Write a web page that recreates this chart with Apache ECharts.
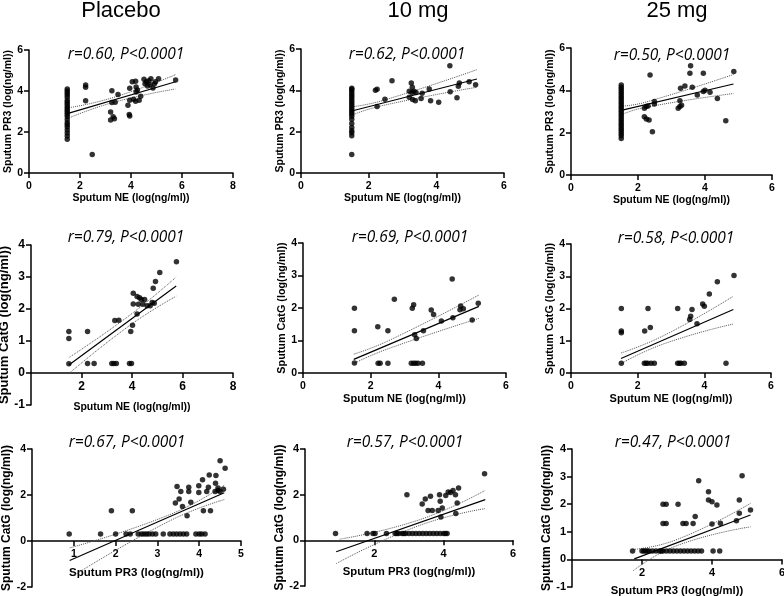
<!DOCTYPE html>
<html><head><meta charset="utf-8">
<script src="https://cdn.jsdelivr.net/npm/echarts@6/dist/echarts.min.js"></script>
<style>html,body{margin:0;padding:0;background:#fff}#c{width:784px;height:596px}</style>
</head><body><div id="c"></div>
<script>
// ---------------- DATA ----------------
const groupTitles = ['Placebo', '10 mg', '25 mg'];
const rLabels = [
  'r=0.60, P<0.0001', 'r=0.62, P<0.0001', 'r=0.50, P<0.0001',
  'r=0.79, P<0.0001', 'r=0.69, P<0.0001', 'r=0.58, P<0.0001',
  'r=0.67, P<0.0001', 'r=0.57, P<0.0001', 'r=0.47, P<0.0001'
];
const xNames = [
  'Sputum NE (log(ng/ml))', 'Sputum NE (log(ng/ml))', 'Sputum NE (log(ng/ml))',
  'Sputum NE (log(ng/ml))', 'Sputum NE (log(ng/ml))', 'Sputum NE (log(ng/ml))',
  'Sputum PR3 (log(ng/ml))', 'Sputum PR3 (log(ng/ml))', 'Sputum PR3 (log(ng/ml))'
];
const yNames = [
  'Sputum PR3 (log(ng/ml))', 'Sputum PR3 (log(ng/ml))', 'Sputum PR3 (log(ng/ml))',
  'Sputum CatG (log(ng/ml))', 'Sputum CatG (log(ng/ml))', 'Sputum CatG (log(ng/ml))',
  'Sputum CatG (log(ng/ml))', 'Sputum CatG (log(ng/ml))', 'Sputum CatG (log(ng/ml))'
];
const xMin = [0, 0, 0, 0, 0, 0, 0, 0, 0];
const xMax = [8, 6, 6, 8, 6, 6, 5, 6, 6];
const xStep = [2, 2, 2, 2, 2, 2, 1, 2, 2];
const yMin = [0, 0, 0, -1, 0, 0, -2, -2, -1];
const yMax = [6, 6, 6, 4, 4, 4, 4, 4, 4];
const yStep = [2, 2, 2, 1, 1, 1, 2, 2, 1];

// values at the lower limit of NE (x = 1.5)
const neFloor = 1.5;
const placeboNePr3Floor = [1.65,1.8,1.95,2.1,2.25,2.35,2.45,2.6,2.75,2.85,2.95,3.05,3.15,3.25,3.35,3.45,3.55,3.7,3.8,3.9,4.0,4.1];
const placeboNePr3 = [[2.22,4.29],[2.22,4.18],[2.22,3.52],[2.48,0.9],[3.25,4.01],[3.25,3.44],[3.38,3.45],[3.2,2.98],[3.2,2.58],[3.35,2.65],[3.3,2.75],[3.49,3.83],[3.95,4.13],[3.88,3.31],[3.95,3.55],[3.93,2.85],[3.95,2.78],[4.05,4.45],[4.18,4.47],[4.2,4.2],[4.25,4.05],[4.2,3.95],[4.1,3.6],[4.18,3.5],[4.32,3.55],[4.38,3.75],[4.51,4.57],[4.6,4.45],[4.55,4.35],[4.7,4.5],[4.78,4.6],[4.75,4.3],[4.86,4.15],[4.92,4.35],[4.96,4.45],[4.65,4.25],[5.08,4.6],[5.75,4.54]];
const tenNePr3Floor = [0.9,1.8,1.95,2.05,2.2,2.4,2.6,2.75,2.85,2.95,3.05,3.15,3.25,3.35,3.45,3.55,3.65,3.75,3.85,3.95,4.05,4.1];
const tenNePr3 = [[2.2,4.0],[2.25,4.05],[2.25,3.22],[2.48,3.57],[2.69,4.46],[3.26,4.35],[3.29,4.15],[3.2,3.95],[3.28,3.9],[3.34,3.96],[3.4,3.9],[3.2,3.66],[3.3,3.56],[3.38,3.5],[3.55,3.61],[3.58,3.86],[3.79,4.07],[3.83,3.5],[4.07,3.42],[4.4,5.19],[4.41,3.93],[4.61,3.64],[4.65,4.2],[4.68,4.35],[4.97,4.42],[5.16,4.27]];
const twentyFiveNePr3Floor = [1.72,1.85,1.95,2.05,2.15,2.25,2.35,2.45,2.55,2.65,2.75,2.85,2.95,3.05,3.15,3.25,3.35,3.45,3.55,3.65,3.75,3.85,3.95,4.05,4.15,4.25];
const twentyFiveNePr3 = [[2.19,3.15],[2.24,3.24],[2.3,3.26],[2.19,2.75],[2.25,2.65],[2.33,2.6],[2.36,4.73],[2.43,2.04],[2.49,3.47],[2.49,3.36],[3.2,3.15],[3.25,3.24],[3.3,3.3],[3.25,3.51],[3.27,4.1],[3.4,4.21],[3.57,5.16],[3.55,4.81],[3.62,4.15],[3.77,3.78],[3.95,4.81],[3.95,3.94],[4.0,4.0],[4.15,3.91],[4.37,3.62],[4.62,2.56],[4.86,4.89]];
const placeboNeCatg = [[1.5,1.3],[1.5,1.08],[1.5,0.29],[2.24,1.3],[2.24,0.3],[2.5,0.3],[3.2,0.3],[3.28,0.3],[3.38,0.3],[3.32,1.64],[3.48,1.65],[3.9,0.3],[3.98,0.3],[3.95,1.3],[4.02,1.49],[4.05,2.49],[4.05,2.16],[4.2,1.84],[4.2,2.39],[4.3,2.35],[4.37,2.3],[4.5,2.3],[4.43,2.15],[4.25,2.15],[4.6,2.1],[4.72,2.1],[4.8,2.2],[4.88,2.18],[4.84,2.65],[4.93,2.86],[5.1,3.14],[5.76,3.48]];
const tenNeCatg = [[1.52,1.99],[1.52,1.3],[1.52,0.31],[2.21,1.42],[2.22,0.3],[2.28,0.3],[2.51,1.3],[2.51,0.3],[2.7,2.27],[3.23,1.99],[3.27,2.1],[3.2,0.3],[3.27,0.3],[3.33,0.3],[3.4,0.3],[3.53,0.3],[3.3,1.18],[3.35,1.06],[3.56,1.3],[3.79,1.94],[3.86,1.8],[4.09,1.6],[4.41,2.89],[4.43,1.7],[4.66,2.06],[4.64,1.95],[4.74,1.98],[5.0,1.63],[5.18,2.15]];
const twentyFiveNeCatg = [[1.51,2.0],[1.51,1.3],[1.51,1.25],[1.51,0.3],[2.21,1.3],[2.31,2.0],[2.38,1.41],[2.2,0.3],[2.25,0.3],[2.3,0.3],[2.4,0.3],[2.5,0.3],[3.2,2.0],[3.2,0.3],[3.25,0.3],[3.3,0.3],[3.4,0.3],[3.56,1.66],[3.59,1.76],[3.63,1.97],[3.78,1.53],[3.95,2.14],[4.0,2.07],[4.15,2.45],[4.39,2.83],[4.65,0.3],[4.89,3.02]];
const placeboPr3Catg = [[0.89,0.3],[1.64,0.3],[1.9,1.31],[2.0,0.3],[2.4,1.31],[2.25,0.3],[2.35,0.3],[2.54,0.3],[2.62,0.3],[2.68,0.3],[2.74,0.3],[2.8,0.3],[2.88,0.3],[2.96,0.3],[3.14,0.3],[3.3,0.3],[3.38,0.3],[3.46,0.3],[3.54,0.3],[3.62,0.3],[3.7,0.3],[3.92,0.3],[4.0,0.3],[4.06,0.3],[4.14,0.3],[3.43,1.65],[3.47,2.37],[3.52,1.83],[3.56,2.15],[3.6,1.5],[3.71,1.1],[3.75,2.34],[3.75,2.15],[3.8,1.68],[3.99,2.4],[3.99,2.11],[4.08,2.66],[4.1,1.31],[4.18,2.15],[4.22,2.34],[4.24,2.87],[4.27,1.31],[4.39,2.51],[4.4,2.85],[4.38,2.15],[4.45,2.2],[4.5,2.15],[4.45,2.3],[4.5,3.49],[4.58,2.25],[4.62,3.16]];
const tenPr3Catg = [[0.88,0.3],[1.79,0.3],[1.96,0.3],[2.02,0.3],[2.35,0.3],[2.6,0.3],[2.65,0.3],[2.7,0.3],[2.8,0.3],[2.85,0.3],[2.9,0.3],[3.0,0.3],[3.1,0.3],[3.2,0.3],[3.3,0.3],[3.4,0.3],[3.5,0.3],[3.6,0.3],[3.7,0.3],[3.8,0.3],[3.9,0.3],[4.0,0.3],[4.05,0.3],[4.1,0.3],[2.94,2.0],[3.38,1.59],[3.47,1.81],[3.55,1.31],[3.67,1.31],[3.62,1.93],[3.84,1.31],[3.88,2.0],[3.9,1.71],[3.92,1.02],[3.96,1.42],[4.06,1.96],[4.13,2.12],[4.2,2.1],[4.27,2.18],[4.34,2.0],[4.35,1.17],[4.39,1.64],[4.43,2.29],[5.18,2.92]];
const twentyFivePr3Catg = [[1.73,0.3],[2.0,0.3],[2.05,0.3],[2.1,0.3],[2.15,0.3],[2.2,0.3],[2.3,0.3],[2.4,0.3],[2.5,0.3],[2.55,0.3],[2.6,0.3],[2.7,0.3],[2.8,0.3],[2.9,0.3],[3.0,0.3],[3.1,0.3],[3.2,0.3],[3.3,0.3],[3.4,0.3],[3.5,0.3],[3.6,0.3],[3.7,0.3],[4.03,0.3],[4.22,0.3],[2.6,2.0],[2.69,2.0],[2.6,1.3],[2.69,1.3],[3.03,2.0],[3.17,1.3],[3.26,1.3],[3.46,1.3],[3.52,1.55],[3.62,2.85],[3.9,2.45],[3.9,2.15],[4.0,2.09],[4.0,1.28],[4.14,1.97],[4.24,1.31],[4.7,1.4],[4.78,2.15],[4.78,1.67],[4.86,3.03],[5.1,1.79]];

// regression lines and 95% bands
const fitLines = [
  [[1.5,2.9],[5.75,4.45]], [[1.5,3.0],[5.2,4.55]], [[1.5,3.05],[4.85,4.3]],
  [[1.5,0.25],[5.75,2.72]], [[1.5,0.42],[5.2,2.05]], [[1.5,0.45],[4.87,1.97]],
  [[0.9,-0.85],[4.6,2.1]], [[0.9,-0.5],[5.2,1.78]], [[1.78,0.02],[5.1,1.61]]
];
const upperBands = [
  [[1.5,3.17],[3.3,3.68],[5.75,4.8]], [[1.5,3.2],[2.4,3.5],[5.2,5.0]], [[1.5,3.25],[2.2,3.43],[4.85,4.75]],
  [[1.5,0.48],[3.9,1.8],[5.75,3.0]], [[1.5,0.58],[2.5,0.98],[5.2,2.4]], [[1.5,0.62],[2.8,1.17],[4.87,2.38]],
  [[0.9,-0.3],[3.3,1.15],[4.6,2.42]], [[1.0,0.05],[3.3,0.9],[5.2,2.19]], [[1.75,0.36],[3.0,0.72],[5.1,2.03]]
];
const lowerBands = [
  [[1.5,2.65],[3.3,3.44],[5.75,4.1]], [[1.5,2.8],[2.4,3.26],[5.2,4.15]], [[1.5,2.85],[2.2,3.19],[4.85,3.85]],
  [[1.5,-0.02],[3.9,1.48],[5.75,2.4]], [[1.5,0.29],[2.5,0.74],[5.2,1.68]], [[1.5,0.29],[2.8,0.91],[4.87,1.52]],
  [[1.0,-1.5],[3.3,0.88],[4.6,1.8]], [[0.9,-1.02],[3.3,0.65],[5.2,1.39]], [[1.75,-0.41],[3.0,0.5],[5.1,1.18]]
];

// ---------------- LAYOUT ----------------
const grids = [
  [29,50,204,123], [301,49,203,124], [571,48,201,127],
  [31,245,202,160], [303,243,203,130], [571,244,200,129],
  [32,449,209,138], [305,449,208,137], [572,449,210,138]
];
const showX0 = [true,true,true,false,true,true,false,false,false];
const xNameGap = [19,19,18,29,20,20,26,26,26];
const yNameGap = [14,14,15,17,12,14,17,18,16];
const xNameSize = [10.5,10.5,10.5,10.5,11,11,11.5,11.3,11.3];
const yNameSize = [10.5,10.5,10.6,13,10.8,10.8,12,12,12];
const tickSize = [10.5,10.5,10.5,12,10.5,10.5,10.5,11,11];
const titleX = [121,418,677];
const rPos = [[126,55],[407,55],[672,56],[126,238],[410,238],[676,239],[127,443],[405,443],[673,443]];

const panelData = [
  placeboNePr3Floor.map(v => [neFloor, v]).concat(placeboNePr3),
  tenNePr3Floor.map(v => [neFloor, v]).concat(tenNePr3),
  twentyFiveNePr3Floor.map(v => [neFloor, v]).concat(twentyFiveNePr3),
  placeboNeCatg, tenNeCatg, twentyFiveNeCatg,
  placeboPr3Catg, tenPr3Catg, twentyFivePr3Catg
];

const FONT = '"Liberation Sans", Arial, sans-serif';
const gridOpt = [], xAxes = [], yAxes = [], series = [], graphic = [];
for (let i = 0; i < 9; i++) {
  const g = grids[i];
  // move the x axis up to the y = 0 line
  const zeroOffset = -g[3] * (0 - yMin[i]) / (yMax[i] - yMin[i]);
  gridOpt.push({left: g[0], top: g[1], width: g[2], height: g[3], containLabel: false, outerBoundsMode: 'none'});
  xAxes.push({
    type: 'value', gridIndex: i, min: xMin[i], max: xMax[i], interval: xStep[i], position: 'bottom',
    offset: zeroOffset,
    name: xNames[i], nameLocation: 'middle', nameGap: xNameGap[i],
    nameTextStyle: {fontFamily: FONT, fontWeight: 'bold', fontSize: xNameSize[i], color: '#000'},
    axisLine: {onZero: false, lineStyle: {color: '#000', width: 1.5}},
    axisTick: {show: true, length: 5, lineStyle: {color: '#000', width: 1.5}},
    axisLabel: {showMinLabel: showX0[i], margin: 8, fontFamily: FONT, fontWeight: 'bold', fontSize: tickSize[i], color: '#000'},
    splitLine: {show: false}
  });
  yAxes.push({
    type: 'value', gridIndex: i, min: yMin[i], max: yMax[i], interval: yStep[i], position: 'left',
    name: yNames[i], nameLocation: 'middle', nameGap: yNameGap[i], nameRotate: 90,
    nameTextStyle: {fontFamily: FONT, fontWeight: 'bold', fontSize: yNameSize[i], color: '#000'},
    axisLine: {onZero: false, lineStyle: {color: '#000', width: 1.5}},
    axisTick: {show: true, length: 5, lineStyle: {color: '#000', width: 1.5}},
    axisLabel: {margin: 6, fontFamily: FONT, fontWeight: 'bold', fontSize: tickSize[i], color: '#000'},
    splitLine: {show: false}
  });
  series.push({type: 'scatter', xAxisIndex: i, yAxisIndex: i, data: panelData[i], symbolSize: 5.5,
    itemStyle: {color: '#000'}, silent: true, z: 3});
  series.push({type: 'line', xAxisIndex: i, yAxisIndex: i, data: fitLines[i], symbol: 'none',
    lineStyle: {color: '#000', width: 1.2}, silent: true, z: 2});
  series.push({type: 'line', xAxisIndex: i, yAxisIndex: i, data: upperBands[i], symbol: 'none', smooth: true,
    lineStyle: {color: '#555', width: 1, type: 'dotted'}, silent: true, z: 2});
  series.push({type: 'line', xAxisIndex: i, yAxisIndex: i, data: lowerBands[i], symbol: 'none', smooth: true,
    lineStyle: {color: '#555', width: 1, type: 'dotted'}, silent: true, z: 2});
  graphic.push({type: 'text', x: rPos[i][0], y: rPos[i][1], silent: true,
    style: {text: rLabels[i], textAlign: 'center', textVerticalAlign: 'middle',
      font: 'italic 15.5px "Open Sans", sans-serif', fill: '#000'}});
}
for (let j = 0; j < 3; j++) {
  graphic.push({type: 'text', x: titleX[j], y: 11, silent: true,
    style: {text: groupTitles[j], textAlign: 'center', textVerticalAlign: 'middle',
      font: '22px "Liberation Sans", Arial, sans-serif', fill: '#000'}});
}

const chart = echarts.init(document.getElementById('c'), null, {renderer: 'canvas'});
chart.setOption({
  backgroundColor: '#fff', animation: false,
  grid: gridOpt, xAxis: xAxes, yAxis: yAxes, series: series, graphic: graphic
});
</script></body></html>
